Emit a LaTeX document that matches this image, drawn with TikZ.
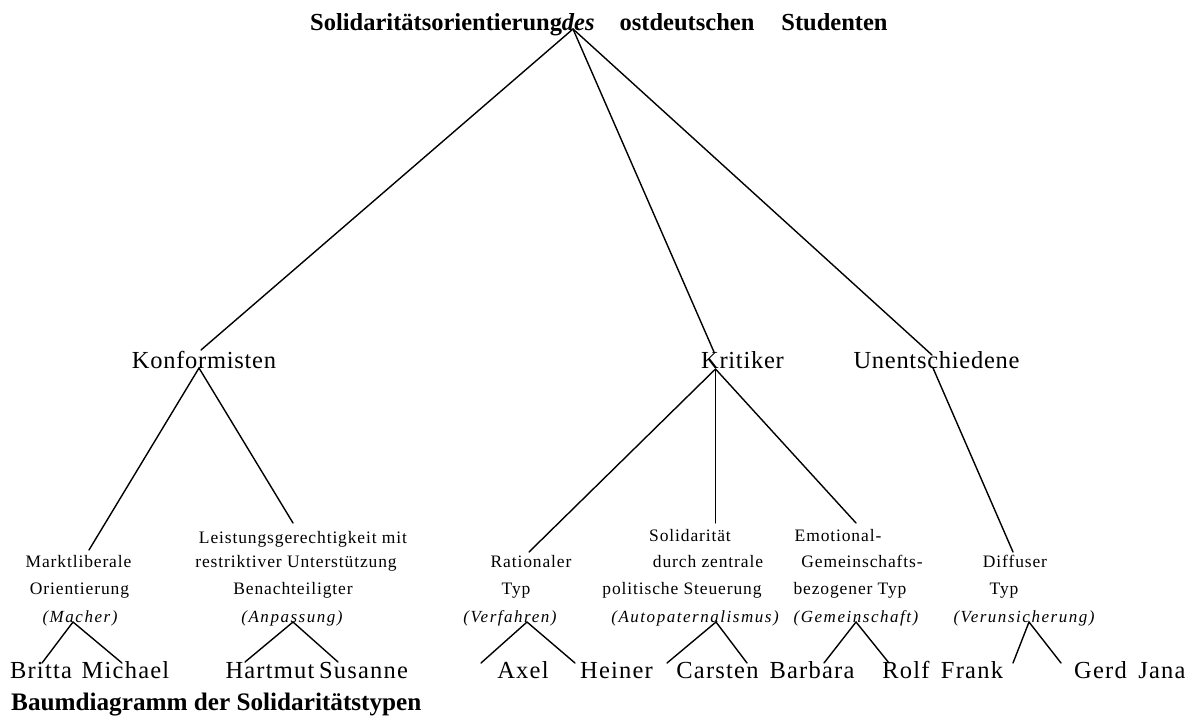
\documentclass[tikz,border=0pt]{standalone}
\usepackage{fontspec}
\setmainfont{Liberation Serif}
\newfontfamily\lvlone[LetterSpace=3]{Liberation Serif}
\newfontfamily\lvltwo[LetterSpace=5]{Liberation Serif}
\newfontfamily\tagfont[LetterSpace=9]{Liberation Serif}
\newfontfamily\namefont[LetterSpace=5]{Liberation Serif}
\tikzset{
  lbl/.style={inner sep=0pt, anchor=base},
  head/.style={inner sep=0pt, anchor=base west, font=\fontsize{24.5}{29}\selectfont\bfseries},
  one/.style={lbl, font=\lvlone\fontsize{24.5}{29}\selectfont},
  two/.style={lbl, font=\lvltwo\fontsize{17.5}{20}\selectfont},
  tag/.style={lbl, font=\tagfont\fontsize{17}{20}\selectfont\itshape},
  person/.style={lbl, font=\namefont\fontsize{24.5}{29}\selectfont},
  edge/.style={line width=1.4pt, line cap=round}
}
\begin{document}
\begin{tikzpicture}[x=1pt, y=-1pt]
\useasboundingbox (0,0) rectangle (1188,715);
% title
\node[head] (title) at (310,30) {Solidaritätsorientierung\textit{des}\hspace{25pt}ostdeutschen\hspace{27pt}Studenten};
\node[head, font=\fontsize{25.2}{29}\selectfont\bfseries] (caption) at (11,710) {Baumdiagramm der Solidaritätstypen};
% level 1
\node[one] (kon) at (204,368) {Konformisten};
\node[one] (kri) at (742.5,368) {Kritiker};
\node[one] (une) at (936.5,368) {Unentschiedene};
% level 2
\node[two] (mk1) at (78.5,567) {Marktliberale};
\node[two] (mk2) at (79.5,594) {Orientierung};
\node[tag] (mk3) at (80,622) {(Macher)};
\node[two] (le1) at (303,543) {Leistungsgerechtigkeit mit};
\node[two] (le2) at (296,567) {restriktiver Unterstützung};
\node[two] (le3) at (293,594) {Benachteiligter};
\node[tag] (le4) at (292,622) {(Anpassung)};
\node[two] (ra1) at (531,567) {Rationaler};
\node[two] (ra2) at (516,594) {Typ};
\node[tag] (ra3) at (510,622) {(Verfahren)};
\node[two] (so1) at (690,541) {Solidarität};
\node[two] (so2) at (708,567) {durch zentrale};
\node[two] (so3) at (682,594) {politische Steuerung};
\node[tag] (so4) at (695,622) {(Autopaternalismus)};
\node[two] (em1) at (838,541) {Emotional-};
\node[two] (em2) at (862,567) {Gemeinschafts-};
\node[two] (em3) at (850,594) {bezogener Typ};
\node[tag] (em4) at (856,622) {(Gemeinschaft)};
\node[two] (di1) at (1015,567) {Diffuser};
\node[two] (di2) at (1004,594) {Typ};
\node[tag] (di3) at (1024,622) {(Verunsicherung)};
% names
\node[person] (britta) at (41,678) {Britta};
\node[person] (michael) at (125.5,678) {Michael};
\node[person] (hartmut) at (270,678) {Hartmut};
\node[person] (susanne) at (363.5,678) {Susanne};
\node[person] (axel) at (523,678) {Axel};
\node[person] (heiner) at (616.5,678) {Heiner};
\node[person] (carsten) at (717.5,678) {Carsten};
\node[person] (barbara) at (812,678) {Barbara};
\node[person] (rolf) at (906,678) {Rolf};
\node[person] (frank) at (972,678) {Frank};
\node[person] (gerd) at (1100.5,678) {Gerd};
\node[person] (jana) at (1162,678) {Jana};
% junction points
\coordinate (root) at (573,29);
\coordinate (kon-in) at (201,350);
\coordinate (kon-out) at (199,368);
\coordinate (kri-in) at (714,352);
\coordinate (kri-out) at (715.5,369);
\coordinate (une-in) at (932,355);
\coordinate (une-out) at (933,368);
\coordinate (mk-in) at (89,550);
\coordinate (le-in) at (293,523);
\coordinate (ra-in) at (529,552);
\coordinate (so-in) at (715.5,523);
\coordinate (em-in) at (856,523);
\coordinate (di-in) at (1013,552);
\coordinate (mk-out) at (73,622);
\coordinate (le-out) at (293,622);
\coordinate (ra-out) at (527,622);
\coordinate (so-out) at (716,622);
\coordinate (em-out) at (856,622);
\coordinate (di-out) at (1029,622);
\coordinate (britta-in) at (42,663);
\coordinate (michael-in) at (122,663);
\coordinate (hartmut-in) at (245,662);
\coordinate (susanne-in) at (338,662);
\coordinate (axel-in) at (481,663);
\coordinate (heiner-in) at (575,663);
\coordinate (carsten-in) at (667,663);
\coordinate (barbara-in) at (747,663);
\coordinate (rolf-in) at (824,663);
\coordinate (frank-in) at (889,663);
\coordinate (gerd-in) at (1013,663);
\coordinate (jana-in) at (1061,663);
% connectors
\draw[edge] (root) -- (kon-in);
\draw[edge] (root) -- (kri-in);
\draw[edge] (root) -- (une-in);
\draw[edge] (kon-out) -- (mk-in);
\draw[edge] (kon-out) -- (le-in);
\draw[edge] (kri-out) -- (ra-in);
\draw[edge] (kri-out) -- (so-in);
\draw[edge] (kri-out) -- (em-in);
\draw[edge] (une-out) -- (di-in);
\draw[edge] (britta-in) -- (mk-out) -- (michael-in);
\draw[edge] (hartmut-in) -- (le-out) -- (susanne-in);
\draw[edge] (axel-in) -- (ra-out) -- (heiner-in);
\draw[edge] (carsten-in) -- (so-out) -- (barbara-in);
\draw[edge] (rolf-in) -- (em-out) -- (frank-in);
\draw[edge] (gerd-in) -- (di-out) -- (jana-in);
\end{tikzpicture}
\end{document}
